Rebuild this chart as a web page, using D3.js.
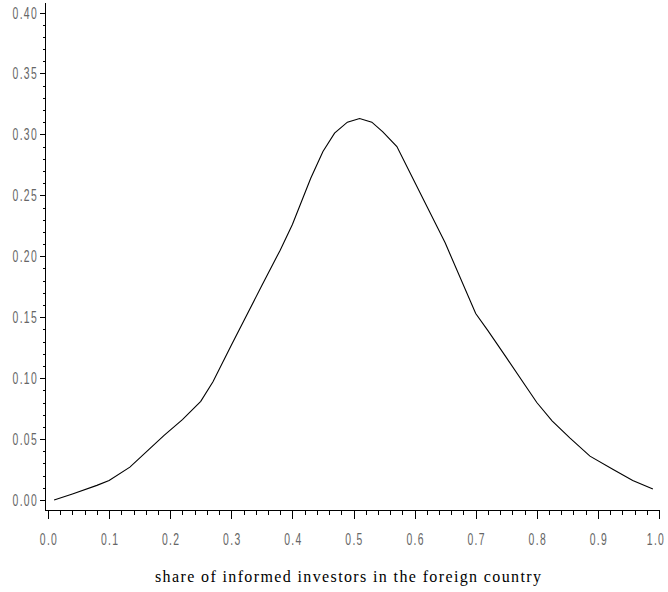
<!DOCTYPE html>
<html lang="en">
  <head>
    <meta charset="UTF-8"/>
    <title>Share of informed investors</title>
    <script src="https://d3js.org/d3.v7.min.js"></script>
    <style>
      body { margin: 0; background: #fff; }
      text { font-family: 'Liberation Mono', 'DejaVu Sans Mono', monospace; }
      .tick-label { font-family: 'Liberation Sans', sans-serif; font-size: 16px; fill: #666; letter-spacing: 2px; }
      .axis-title { font-family: 'Liberation Serif', serif; font-size: 16px; fill: #000; }
      .axis-line { stroke: #000; stroke-width: 1px; shape-rendering: crispEdges; }
    </style>
  </head>
  <body>
    <script type="text/javascript">

      // values
      const shareX = [0.01, 0.04, 0.08, 0.10, 0.134, 0.16, 0.19, 0.22, 0.25, 0.27, 0.30, 0.35, 0.38, 0.40,
                      0.43, 0.45, 0.469, 0.49, 0.51, 0.53, 0.548, 0.571, 0.597, 0.62, 0.65, 0.70, 0.72,
                      0.75, 0.80, 0.825, 0.854, 0.887, 0.925, 0.957, 0.99]
      const valueY = [0.000, 0.005, 0.012, 0.016, 0.027, 0.039, 0.053, 0.066, 0.081, 0.097, 0.127, 0.176, 0.205, 0.226,
                      0.264, 0.286, 0.301, 0.310, 0.313, 0.310, 0.302, 0.290, 0.264, 0.241, 0.211, 0.153, 0.139,
                      0.117, 0.080, 0.065, 0.051, 0.036, 0.025, 0.016, 0.009]
      const xTickLabels = ["0.0", "0.1", "0.2", "0.3", "0.4", "0.5", "0.6", "0.7", "0.8", "0.9", "1.0"]
      const yTickLabels = ["0.00", "0.05", "0.10", "0.15", "0.20", "0.25", "0.30", "0.35", "0.40"]
      const xTitle = "share of informed investors in the foreign country"

      const outerWidth = 668,
            outerHeight = 592,
            axisX = 45,      // x position of vertical axis
            axisY = 510,     // y position of horizontal axis
            squeeze = 0.65   // narrow look of the tick digits

      const svg = d3.select("body").append("svg")
          .attr("width", outerWidth)
          .attr("height", outerHeight)

      const xScale = d3.scaleLinear().domain([0, 1]).range([48, 659])
      const yScale = d3.scaleLinear().domain([0, 0.4]).range([500, 12.5])

      // axis lines
      svg.append("line").attr("class", "axis-line")
          .attr("x1", axisX).attr("x2", axisX).attr("y1", 3).attr("y2", axisY)
      svg.append("line").attr("class", "axis-line")
          .attr("x1", axisX).attr("x2", 660).attr("y1", axisY).attr("y2", axisY)

      // x ticks: minor every 0.02, major every 0.1
      const xMinor = d3.range(0, 51).map(i => i / 50)
      svg.append("g").selectAll("line")
        .data(xMinor)
        .join("line")
          .attr("class", "axis-line")
          .attr("x1", d => Math.round(xScale(d)) + 0.5)
          .attr("x2", d => Math.round(xScale(d)) + 0.5)
          .attr("y1", axisY)
          .attr("y2", (d, i) => i % 5 === 0 ? axisY + 9 : axisY + 5)

      svg.append("g").selectAll("text")
        .data(xTickLabels)
        .join("text")
          .attr("class", "tick-label")
          .attr("transform", (d, i) => {
            const x = i === xTickLabels.length - 1 ? xScale(+d) - 3 : xScale(+d) + 1
            return `translate(${x},545) scale(${squeeze},1)`
          })
          .attr("text-anchor", "middle")
          .text(d => d)

      // y ticks: minor every 0.01, major every 0.05
      const yMinor = d3.range(0, 41).map(i => i / 100)
      svg.append("g").selectAll("line")
        .data(yMinor)
        .join("line")
          .attr("class", "axis-line")
          .attr("y1", d => Math.round(yScale(d)) + 0.5)
          .attr("y2", d => Math.round(yScale(d)) + 0.5)
          .attr("x1", (d, i) => i % 5 === 0 ? axisX - 5 : axisX - 2)
          .attr("x2", axisX + 1)

      svg.append("g").selectAll("text")
        .data(yTickLabels)
        .join("text")
          .attr("class", "tick-label")
          .attr("transform", d => `translate(38,${yScale(+d) + 6}) scale(${squeeze},1)`)
          .attr("text-anchor", "end")
          .text(d => d)

      // axis title (Courier-like look: serif glyphs, even spacing)
      svg.append("text")
          .attr("class", "axis-title")
          .attr("x", 155)
          .attr("y", 582)
          .attr("textLength", 386)
          .attr("lengthAdjust", "spacing")
          .text(xTitle)

      // the curve
      const points = shareX.map((x, i) => ({x, y: valueY[i]}))
      const line = d3.line()
          .x(d => xScale(d.x))
          .y(d => yScale(d.y))

      svg.append("path")
          .datum(points)
          .attr("fill", "none")
          .attr("stroke", "#000")
          .attr("stroke-width", 1.1)
          .attr("d", line)

    </script>
  </body>
</html>
